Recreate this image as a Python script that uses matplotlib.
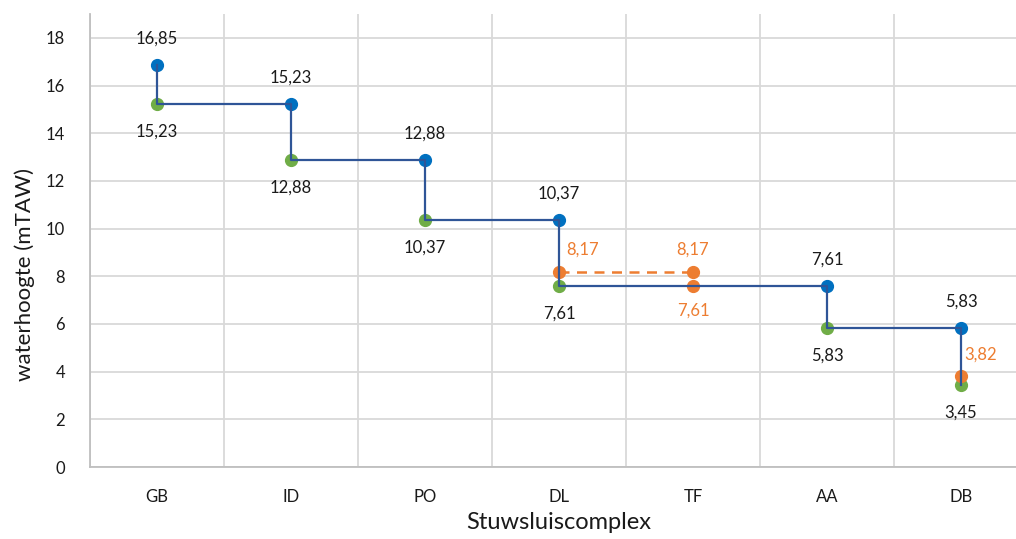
import numpy as np
import matplotlib.pyplot as plt

plt.rcParams['font.family'] = ['Lato', 'DejaVu Sans']

stations = ['GB', 'ID', 'PO', 'DL', 'TF', 'AA', 'DB']
# opwaarts (blauw) en afwaarts (groen) peil per stuwsluis, TF heeft geen eigen peil
upstream = [16.85, 15.23, 12.88, 10.37, np.nan, 7.61, 5.83]
downstream = [15.23, 12.88, 10.37, 7.61, np.nan, 5.83, 3.45]
# oranje punten: (station index, waarde)
orange_x = [3, 4, 4, 6]
orange_y = [8.17, 8.17, 7.61, 3.82]
orange_dash_x = [3, 4]
orange_dash_y = [8.17, 8.17]

blue_c = '#0070C0'
green_c = '#70AD47'
orange_c = '#ED7D31'
line_c = '#2F5597'
grid_c = '#D9D9D9'

fig = plt.figure(figsize=(10.16, 5.39), dpi=100)
ax = fig.add_axes([90 / 1016, 1 - 467 / 539, 938 / 1016, (467 - 14) / 539])

x = np.arange(len(stations))
valid = ~np.isnan(upstream)
xs = x[valid]
ups = np.array(upstream)[valid]
downs = np.array(downstream)[valid]

# trappenlijn: verticaal op elk station, horizontaal naar het volgende
step_x = np.repeat(xs, 2)
step_y = np.column_stack([ups, downs]).ravel()
ax.plot(step_x, step_y, color=line_c, lw=1.6, zorder=4)
ax.plot(orange_dash_x, orange_dash_y, color=orange_c, lw=1.8, ls=(0, (4, 3)), zorder=2)

ax.plot(xs, ups, 'o', color=blue_c, ms=8.5, zorder=3)
ax.plot(xs, downs, 'o', color=green_c, ms=8.5, zorder=3)
ax.plot(orange_x, orange_y, 'o', color=orange_c, ms=8.5, zorder=3)

fmt = lambda v: f'{v:.2f}'.replace('.', ',')
for xi, u, d in zip(xs, ups, downs):
    ax.annotate(fmt(u), (xi, u), xytext=(0, 19), textcoords='offset points',
                ha='center', va='center', fontsize=12, color='#1a1a1a')
    ax.annotate(fmt(d), (xi, d), xytext=(0, -20), textcoords='offset points',
                ha='center', va='center', fontsize=12, color='#1a1a1a')

orange_offsets = [(17, 16), (0, 16), (0, -18), (14, 15)]
for xi, yi, off in zip(orange_x, orange_y, orange_offsets):
    ax.annotate(fmt(yi), (xi, yi), xytext=off, textcoords='offset points',
                ha='center', va='center', fontsize=12, color=orange_c)

ax.set_xlim(-0.5, len(stations) - 0.5)
ax.set_ylim(0, 19)
ax.set_yticks(np.arange(0, 19, 2))
ax.set_xticks(x)
ax.set_xticklabels(stations)
ax.set_xticks(np.arange(-0.5, len(stations), 1), minor=True)
ax.grid(True, which='minor', axis='x', color=grid_c, lw=1.3)
ax.grid(True, which='major', axis='y', color=grid_c, lw=1.3)
ax.set_axisbelow(True)
ax.tick_params(which='both', length=0)
ax.tick_params(axis='y', pad=18, labelsize=12, labelcolor='#1a1a1a')
ax.tick_params(axis='x', pad=16, labelsize=12, labelcolor='#1a1a1a')
for s in ['top', 'right']:
    ax.spines[s].set_visible(False)
for s in ['left', 'bottom']:
    ax.spines[s].set_color('#BFBFBF')
    ax.spines[s].set_linewidth(1.3)

ax.set_ylabel('waterhoogte (mTAW)', fontsize=16, color='#1a1a1a', va='center')
ax.yaxis.set_label_coords(-0.070, 0.424)
ax.set_xlabel('Stuwsluiscomplex', fontsize=17, color='#1a1a1a', va='center')
ax.xaxis.set_label_coords(0.5, -0.122)

fig.savefig('out.png', dpi=100)
